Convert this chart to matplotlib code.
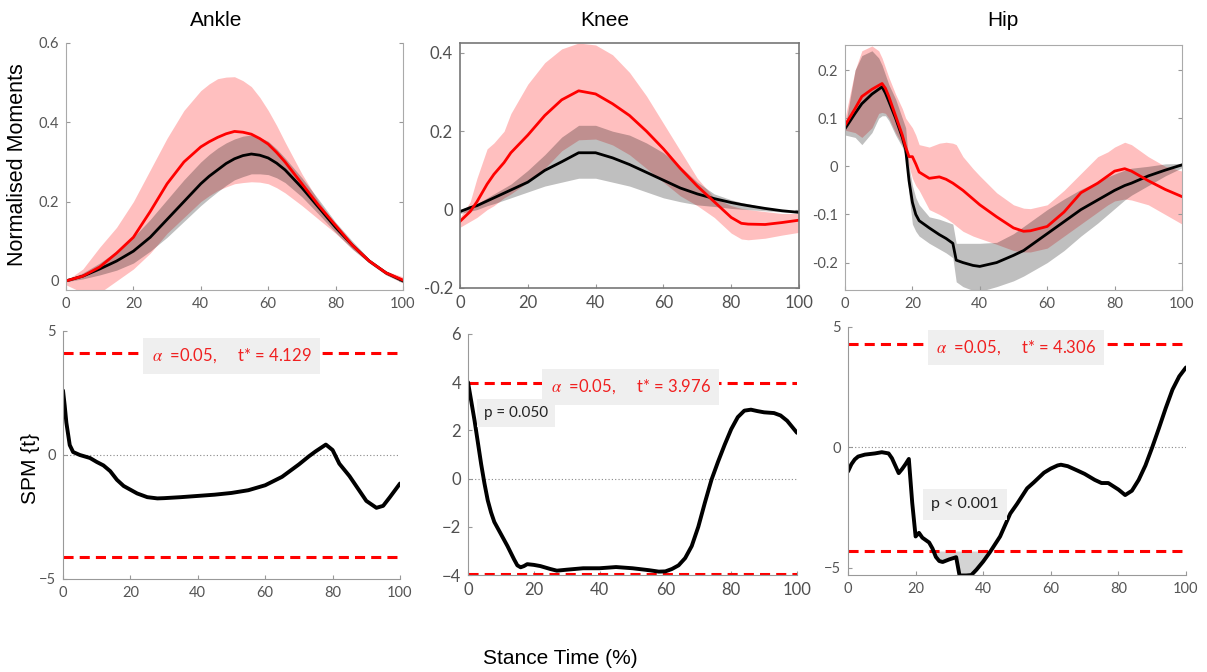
import numpy as np
import matplotlib
matplotlib.use("Agg")
import matplotlib.pyplot as plt

plt.rcParams['font.family'] = ['Lato', 'DejaVu Sans']
plt.rcParams['mathtext.fontset'] = 'stix'

# ---- top row: normalised moments (mean and band) ----
ankle_x = [0, 5, 10, 15, 20, 25, 30, 35, 40, 42.5, 45, 47.5, 50, 52.5, 55, 57.5, 60, 62.5, 65, 70,
           75, 80, 85, 90, 95, 100]
ankle_red_mean = [0.0, 0.012, 0.035, 0.07, 0.11, 0.175, 0.245, 0.30, 0.338, 0.351, 0.362, 0.371,
                  0.377, 0.375, 0.37, 0.359, 0.345, 0.324, 0.30, 0.245, 0.19, 0.14, 0.09, 0.05,
                  0.02, 0.002]
ankle_red_up = [0.0, 0.03, 0.085, 0.135, 0.20, 0.28, 0.36, 0.43, 0.48, 0.497, 0.51, 0.514, 0.515,
                0.505, 0.49, 0.463, 0.43, 0.392, 0.35, 0.27, 0.20, 0.14, 0.09, 0.05, 0.025, 0.01]
ankle_red_lo = [-0.01, -0.03, -0.03, 0.0, 0.03, 0.07, 0.12, 0.16, 0.20, 0.215, 0.228, 0.237, 0.245,
                0.248, 0.25, 0.249, 0.245, 0.235, 0.222, 0.19, 0.155, 0.12, 0.08, 0.045, 0.015,
                -0.005]
ankle_blk_mean = [0.0, 0.012, 0.03, 0.05, 0.075, 0.11, 0.155, 0.20, 0.245, 0.264, 0.28, 0.296,
                  0.308, 0.316, 0.32, 0.317, 0.31, 0.297, 0.28, 0.235, 0.185, 0.135, 0.09, 0.05,
                  0.02, 0.0]
ankle_blk_up = [0.002, 0.02, 0.045, 0.075, 0.11, 0.155, 0.205, 0.255, 0.30, 0.319, 0.335, 0.348,
                0.358, 0.365, 0.368, 0.362, 0.352, 0.333, 0.31, 0.26, 0.205, 0.148, 0.10, 0.055,
                0.025, 0.005]
ankle_blk_lo = [-0.002, 0.005, 0.015, 0.027, 0.045, 0.075, 0.11, 0.15, 0.19, 0.208, 0.225, 0.241,
                0.255, 0.263, 0.27, 0.27, 0.268, 0.26, 0.248, 0.212, 0.168, 0.122, 0.08, 0.045,
                0.015, -0.005]

knee_x = [0, 3, 5, 8, 10, 13, 15, 20, 25, 30, 35, 40, 45, 50, 55, 60, 65, 70, 75, 80, 83, 85, 90, 95, 100]
knee_red_mean = [-0.03, -0.005, 0.02, 0.065, 0.09, 0.12, 0.145, 0.19, 0.24, 0.28, 0.303, 0.295, 0.27,
                 0.24, 0.20, 0.155, 0.105, 0.06, 0.02, -0.02, -0.035, -0.037, -0.038, -0.033, -0.027]
knee_red_up = [-0.02, 0.02, 0.08, 0.155, 0.17, 0.2, 0.245, 0.32, 0.375, 0.41, 0.425, 0.42, 0.395,
               0.35, 0.29, 0.22, 0.15, 0.08, 0.03, 0.01, 0.003, 0.0, -0.005, -0.01, -0.01]
knee_red_lo = [-0.045, -0.03, -0.02, 0.0, 0.01, 0.03, 0.04, 0.07, 0.105, 0.15, 0.178, 0.18, 0.165,
               0.14, 0.105, 0.07, 0.035, 0.01, -0.02, -0.06, -0.075, -0.077, -0.073, -0.065, -0.058]
knee_blk_mean = [-0.005, 0.005, 0.01, 0.022, 0.03, 0.042, 0.05, 0.07, 0.10, 0.122, 0.145, 0.145, 0.132,
                 0.115, 0.095, 0.075, 0.055, 0.04, 0.028, 0.018, 0.013, 0.01, 0.003, -0.003, -0.007]
knee_blk_up = [0.0, 0.01, 0.015, 0.03, 0.04, 0.055, 0.065, 0.10, 0.14, 0.185, 0.215, 0.215, 0.20,
               0.19, 0.17, 0.145, 0.11, 0.07, 0.04, 0.025, 0.018, 0.015, 0.005, -0.002, -0.005]
knee_blk_lo = [-0.01, -0.004, 0.0, 0.01, 0.015, 0.024, 0.03, 0.045, 0.06, 0.07, 0.08, 0.08, 0.07,
               0.06, 0.045, 0.03, 0.02, 0.012, 0.008, 0.003, 0.001, 0.0, -0.003, -0.006, -0.009]

hip_x = [0, 3, 5, 8, 10, 11, 12, 13, 15, 17, 18, 19, 20, 21, 22, 25, 28, 30, 32, 33, 35, 38, 40,
         45, 50, 53, 55, 60, 65, 70, 75, 78, 80, 83, 85, 90, 95, 100]
hip_red_mean = [0.085, 0.12, 0.145, 0.16, 0.168, 0.172, 0.162, 0.145, 0.105, 0.065, 0.04, 0.02, 0.02,
                0.005, -0.012, -0.025, -0.022, -0.027, -0.035, -0.04, -0.05, -0.068, -0.08,
                -0.105, -0.128, -0.135, -0.134, -0.125, -0.095, -0.055, -0.035, -0.02, -0.01,
                -0.005, -0.01, -0.03, -0.048, -0.063]
hip_red_up = [0.1, 0.2, 0.24, 0.25, 0.24, 0.225, 0.205, 0.185, 0.15, 0.12, 0.1, 0.09, 0.08,
              0.065, 0.045, 0.04, 0.048, 0.05, 0.048, 0.045, 0.02, -0.005, -0.02,
              -0.055, -0.08, -0.087, -0.088, -0.08, -0.05, -0.015, 0.02, 0.03, 0.04,
              0.05, 0.045, 0.02, 0.0, -0.01]
hip_red_lo = [0.075, 0.07, 0.06, 0.08, 0.11, 0.112, 0.11, 0.1, 0.07, 0.045, 0.03, 0.0, -0.025,
              -0.04, -0.05, -0.09, -0.1, -0.108, -0.118, -0.124, -0.135, -0.145, -0.15,
              -0.162, -0.175, -0.178, -0.178, -0.17, -0.145, -0.12, -0.095, -0.08, -0.072,
              -0.068, -0.07, -0.08, -0.1, -0.12]
hip_blk_mean = [0.078, 0.11, 0.13, 0.15, 0.16, 0.165, 0.152, 0.135, 0.10, 0.06, 0.035, -0.03, -0.075,
                -0.1, -0.113, -0.128, -0.142, -0.15, -0.16, -0.195, -0.2, -0.206, -0.208,
                -0.2, -0.185, -0.175, -0.165, -0.14, -0.115, -0.09, -0.07, -0.058, -0.05,
                -0.04, -0.035, -0.02, -0.008, 0.003]
hip_blk_up = [0.08, 0.2, 0.23, 0.24, 0.225, 0.21, 0.19, 0.17, 0.14, 0.1, 0.08, 0.0, -0.04,
              -0.065, -0.08, -0.105, -0.11, -0.115, -0.12, -0.16, -0.16, -0.16, -0.16,
              -0.158, -0.14, -0.125, -0.115, -0.09, -0.068, -0.048, -0.032, -0.022, -0.016,
              -0.008, -0.004, 0.0, 0.005, 0.006]
hip_blk_lo = [0.065, 0.06, 0.045, 0.07, 0.1, 0.105, 0.105, 0.095, 0.065, 0.04, 0.02, -0.06, -0.12,
              -0.135, -0.145, -0.16, -0.172, -0.18, -0.19, -0.24, -0.25, -0.258, -0.26,
              -0.25, -0.238, -0.228, -0.22, -0.2, -0.175, -0.145, -0.118, -0.1, -0.088,
              -0.07, -0.06, -0.04, -0.02, -0.003]

# ---- bottom row: SPM {t} curves ----
ankle_spm_x = [0, 0.5, 1, 2, 3, 5, 8, 10, 12, 14, 16, 18, 20, 22, 25, 28, 30, 35, 40, 45, 50, 55, 60,
               65, 70, 73, 75, 78, 80, 82, 85, 88, 90, 93, 95, 97, 100]
ankle_spm_t = [2.6, 2.0, 1.3, 0.4, 0.12, 0.0, -0.12, -0.28, -0.42, -0.65, -1.0, -1.25, -1.4, -1.55,
               -1.7, -1.75, -1.74, -1.7, -1.65, -1.6, -1.53, -1.42, -1.22, -0.88, -0.38, -0.05,
               0.15, 0.42, 0.2, -0.35, -0.85, -1.45, -1.85, -2.13, -2.05, -1.7, -1.15]

knee_spm_x = [0, 1, 2, 3, 4, 5, 6, 7, 8, 10, 12, 14, 15, 16, 17, 18, 20, 22, 25, 27, 30, 35, 40, 45,
              50, 55, 58, 60, 62, 64, 66, 68, 70, 72, 74, 76, 78, 80, 82, 84, 86, 88, 90, 93, 95,
              97, 100]
knee_spm_t = [4.0, 3.2, 2.4, 1.5, 0.6, -0.2, -0.9, -1.4, -1.8, -2.3, -2.8, -3.35, -3.6, -3.68, -3.63,
              -3.55, -3.58, -3.63, -3.75, -3.82, -3.78, -3.72, -3.72, -3.67, -3.72, -3.8, -3.86,
              -3.85, -3.75, -3.6, -3.3, -2.8, -2.0, -1.0, -0.05, 0.7, 1.4, 2.05, 2.55, 2.82, 2.86,
              2.8, 2.75, 2.72, 2.62, 2.4, 1.9]

hip_spm_x = [0, 1, 2, 3, 5, 8, 10, 12, 13, 15, 16, 17, 18, 19, 20, 21, 22, 24, 25, 26, 27, 28, 30,
             32, 33, 35, 36.5, 38, 40, 42, 45, 48, 50, 53, 55, 58, 60, 62, 63, 65, 68, 70, 73, 75,
             77, 80, 82, 84, 86, 88, 90, 92, 94, 96, 98, 100]
hip_spm_t = [-1.0, -0.7, -0.5, -0.38, -0.3, -0.25, -0.2, -0.25, -0.45, -1.07, -0.9, -0.7, -0.48, -2.3,
             -3.7, -3.55, -3.75, -3.95, -4.2, -4.55, -4.72, -4.76, -4.65, -4.56, -5.32, -5.32,
             -5.3, -5.08, -4.74, -4.35, -3.7, -2.75, -2.35, -1.7, -1.45, -1.05, -0.88, -0.75,
             -0.72, -0.78, -0.97, -1.1, -1.35, -1.48, -1.48, -1.75, -1.98, -1.8, -1.35, -0.75,
             0.0, 0.8, 1.63, 2.4, 2.95, 3.32]

thresholds = [4.129, 3.976, 4.306]
titles = ['Ankle', 'Knee', 'Hip']
W, H = 1207, 672

fig = plt.figure(figsize=(W / 100, H / 100), dpi=100)


def px_axes(l, r, t, b):
    return fig.add_axes([l / W, 1 - b / H, (r - l) / W, (b - t) / H])


def style_ticks(ax, size, color):
    ax.tick_params(direction='in', length=3, width=0.8, colors='#999999',
                   labelsize=size, labelcolor=color, pad=5)


def moment_panel(ax, x, rm, ru, rl, bm, bu, bl):
    ax.fill_between(x, rl, ru, color='red', alpha=0.25, lw=0)
    ax.fill_between(x, bl, bu, color='black', alpha=0.25, lw=0)
    ax.plot(x, bm, color='black', lw=2)
    ax.plot(x, rm, color='red', lw=2)
    ax.set_xlim(0, 100)
    ax.set_xticks([0, 20, 40, 60, 80, 100])
    ax.tick_params(right=True)


def spm_panel(ax, x, t, thr, ylim):
    ax.axhline(0, color='#888888', lw=0.8, ls=(0, (1, 2)))
    for s in (1, -1):
        ax.axhline(s * thr, color='red', lw=2.2, dashes=(3.3, 2.0))
    ax.plot(x, t, color='black', lw=2.8, solid_capstyle='round')
    ax.set_xlim(0, 100)
    ax.set_ylim(*ylim)
    ax.set_xticks([0, 20, 40, 60, 80, 100])
    for s in ('top', 'right'):
        ax.spines[s].set_visible(False)
    for s in ('left', 'bottom'):
        ax.spines[s].set_color('#999999')
        ax.spines[s].set_linewidth(0.8)


def thr_label(ax, xc, yc, thr, size):
    ax.text(xc, yc, r"$\alpha$  =0.05,     t* = %.3f" % thr, color='#f02020', fontsize=size,
            ha='center', va='center',
            bbox=dict(facecolor='#efefef', edgecolor='none', pad=6))


# Ankle moments
ax1 = px_axes(66, 403, 43, 290)
moment_panel(ax1, ankle_x, ankle_red_mean, ankle_red_up, ankle_red_lo,
             ankle_blk_mean, ankle_blk_up, ankle_blk_lo)
ax1.set_ylim(-0.023, 0.6)
ax1.set_yticks([0, 0.2, 0.4, 0.6])
ax1.set_yticklabels(['0', '0.2', '0.4', '0.6'])
ax1.spines['top'].set_visible(False)
for s in ('left', 'bottom', 'right'):
    ax1.spines[s].set_color('#aaaaaa')
    ax1.spines[s].set_linewidth(0.8)
style_ticks(ax1, 10.5, '#555555')

# Knee moments
ax2 = px_axes(460, 799, 43, 288)
moment_panel(ax2, knee_x, knee_red_mean, knee_red_up, knee_red_lo,
             knee_blk_mean, knee_blk_up, knee_blk_lo)
ax2.set_ylim(-0.2, 0.425)
ax2.set_yticks([-0.2, 0, 0.2, 0.4])
ax2.set_yticklabels(['-0.2', '0', '0.2', '0.4'])
for s in ax2.spines.values():
    s.set_color('#777777')
    s.set_linewidth(1.2)
style_ticks(ax2, 12, '#505050')

# Hip moments
ax3 = px_axes(845, 1182, 45, 290)
moment_panel(ax3, hip_x, hip_red_mean, hip_red_up, hip_red_lo,
             hip_blk_mean, hip_blk_up, hip_blk_lo)
ax3.set_ylim(-0.257, 0.252)
ax3.set_yticks([-0.2, -0.1, 0, 0.1, 0.2])
ax3.set_yticklabels(['-0.2', '-0.1', '0', '0.1', '0.2'])
for s in ax3.spines.values():
    s.set_color('#aaaaaa')
    s.set_linewidth(0.8)
style_ticks(ax3, 10.5, '#555555')

# Ankle SPM
ax4 = px_axes(63, 400, 331, 579)
spm_panel(ax4, ankle_spm_x, ankle_spm_t, thresholds[0], (-5, 5))
ax4.set_yticks([-5, 0, 5])
style_ticks(ax4, 10.5, '#555555')
thr_label(ax4, 50, 4.0, thresholds[0], 12)

# Knee SPM
ax5 = px_axes(468, 797, 334, 575)
spm_panel(ax5, knee_spm_x, knee_spm_t, thresholds[1], (-4, 6))
ax5.set_yticks([-4, -2, 0, 2, 4, 6])
style_ticks(ax5, 12, '#505050')
thr_label(ax5, 49.5, 3.8, thresholds[1], 12)
ax5.text(14.6, 2.72, 'p = 0.050', color='#222222', fontsize=11, ha='center', va='center',
         bbox=dict(facecolor='#efefef', edgecolor='none', pad=5))

# Hip SPM
ax6 = px_axes(848, 1186, 327, 575)
hx = np.array(hip_spm_x)
ht = np.array(hip_spm_t)
ax6.fill_between(hx, ht, -thresholds[2], where=ht < -thresholds[2], interpolate=True,
                 color='#d4d4d4', lw=0)
spm_panel(ax6, hip_spm_x, hip_spm_t, thresholds[2], (-5.3, 5.0))
ax6.set_yticks([-5, 0, 5])
style_ticks(ax6, 10.5, '#555555')
thr_label(ax6, 49.7, 4.15, thresholds[2], 12)
ax6.text(34.6, -2.37, 'p < 0.001', color='#222222', fontsize=11.5, ha='center', va='center',
         bbox=dict(facecolor='#efefef', edgecolor='none', pad=6))

# titles and labels
for name, xc in zip(titles, [216, 605, 1003]):
    fig.text(xc / W, 1 - 20 / H, name, fontsize=15, ha='center', va='center',
             family=['Liberation Sans', 'DejaVu Sans'])
fig.text(18 / W, 1 - 165 / H, 'Normalised Moments', rotation=90, fontsize=15.5,
         ha='center', va='center', family=['Liberation Sans', 'DejaVu Sans'])
fig.text(30 / W, 1 - 468 / H, 'SPM {t}', rotation=90, fontsize=15,
         ha='center', va='center', family=['Liberation Sans', 'DejaVu Sans'])
fig.text(560 / W, 1 - 658 / H, 'Stance Time (%)', fontsize=15,
         ha='center', va='center', family=['Liberation Sans', 'DejaVu Sans'])

fig.savefig('out.png', dpi=100)
